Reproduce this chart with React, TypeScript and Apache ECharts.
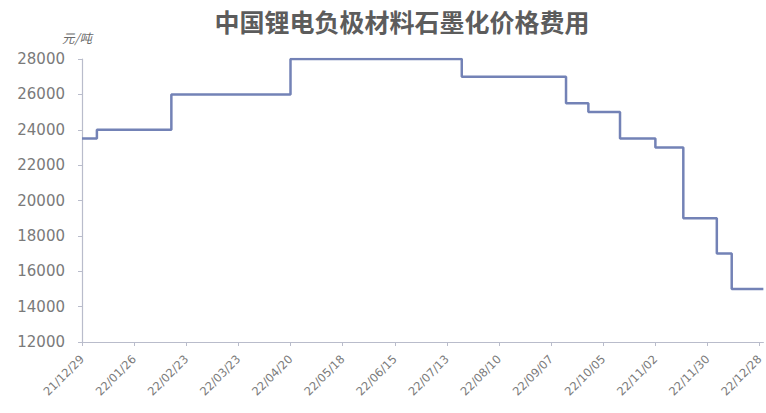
import React, { useEffect, useRef } from "react";
import * as echarts from "echarts";

// Graphitization processing price, yuan per tonne; each entry is the date a new price took effect
const changeDates = [
  "2021-12-29", "2022-01-06", "2022-02-15", "2022-04-20", "2022-07-21",
  "2022-09-15", "2022-09-27", "2022-10-14", "2022-11-02", "2022-11-17",
  "2022-12-05", "2022-12-13", "2022-12-30",
];
const prices = [
  23500, 24000, 26000, 28000, 27000,
  25500, 25000, 23500, 23000, 19000,
  17000, 15000, 15000,
];

// Axis labels, one every four weeks
const tickLabels = [
  "21/12/29", "22/01/26", "22/02/23", "22/03/23", "22/04/20", "22/05/18",
  "22/06/15", "22/07/13", "22/08/10", "22/09/07", "22/10/05", "22/11/02",
  "22/11/30", "22/12/28",
];

const titleText = "中国锂电负极材料石墨化价格费用";
const unitText = "元/吨";

const DAY = 86400000;
const startMs = Date.parse(changeDates[0]);
const dayOf = (d: string) => Math.round((Date.parse(d) - startMs) / DAY);

export default function App() {
  const ref = useRef<HTMLDivElement>(null);

  useEffect(() => {
    if (!ref.current) return;
    document.body.style.margin = "0";
    const chart = echarts.init(ref.current, null, { renderer: "svg" });
    const axisColor = "#b9bccb";
    const labelColor = "#7a7a7a";

    chart.setOption({
      animation: false,
      backgroundColor: "#ffffff",
      title: {
        text: titleText,
        left: 397,
        textAlign: "center",
        top: 3,
        textStyle: {
          fontFamily: "Noto Sans CJK SC",
          fontWeight: "bold",
          fontSize: 25,
          color: "#5c5c5c",
        },
      },
      graphic: [
        {
          type: "text",
          left: 62,
          top: 31,
          style: {
            text: unitText,
            fontFamily: "Noto Sans CJK SC",
            fontStyle: "italic",
            fontSize: 12.5,
            fill: "#6a6a6a",
          },
        },
      ],
      grid: { left: 82, right: 0, top: 59, bottom: 71, containLabel: false },
      xAxis: {
        type: "value",
        min: 0,
        max: 366,
        interval: 28,
        splitLine: { show: false },
        axisLine: { show: true, onZero: false, lineStyle: { color: axisColor, width: 1.2 } },
        axisTick: { show: true, length: 4, lineStyle: { color: axisColor } },
        axisLabel: {
          rotate: 45,
          margin: 15,
          fontSize: 11.5,
          color: labelColor,
          fontFamily: "DejaVu Sans",
          showMaxLabel: false,
          formatter: (v: number) => {
            const i = v / 28;
            return Number.isInteger(i) && tickLabels[i] ? tickLabels[i] : "";
          },
        },
      },
      yAxis: {
        type: "value",
        min: 12000,
        max: 28000,
        interval: 2000,
        splitLine: { show: false },
        axisLine: { show: true, lineStyle: { color: axisColor, width: 1.2 } },
        axisTick: { show: true, length: 4, lineStyle: { color: axisColor } },
        axisLabel: {
          margin: 17,
          fontSize: 15,
          color: labelColor,
          fontFamily: "DejaVu Sans",
          formatter: (v: number) => String(v),
        },
      },
      series: [
        {
          type: "line",
          step: "end",
          symbol: "none",
          data: changeDates.map((d, i) => [dayOf(d), prices[i]]),
          lineStyle: { color: "#7382b6", width: 2.5 },
        },
      ],
    });

    return () => chart.dispose();
  }, []);

  return <div ref={ref} style={{ width: 766, height: 413 }} />;
}
